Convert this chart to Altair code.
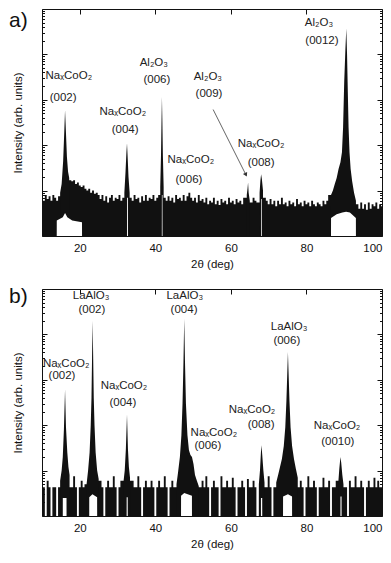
import altair as alt
import pandas as pd

W, H = 340, 227
FONT = "Liberation Sans"
INK = "#111"

# ---------------- panel a) data (Na_xCoO2 on Al2O3) ----------------
# background counts on a 0.5 deg grid from 10 to 100 deg
a_grid = [
    7, 6, 8, 6.5, 7.5, 6, 8, 7, 6, 7.5,
    12, 40, 590, 55, 19, 17, 16, 17, 14, 15,
    13, 12, 13, 11, 10, 11, 9, 10, 8.5, 9,
    8, 6.5, 8, 6, 7.5, 5.5, 7, 8, 6, 7,
    6.5, 8, 6, 7, 20, 110, 20, 7, 6, 8,
    6.5, 7, 5.5, 7.5, 6, 8, 6, 7, 6.5, 8,
    6, 7, 8, 60, 60, 7, 6, 7.5, 6, 7,
    5.5, 8, 6.5, 7, 6, 8, 6, 7.5, 9, 7,
    6, 7, 5.5, 8, 6, 6.5, 5.5, 7, 5, 6,
    5.5, 7, 5, 6, 4.8, 6.5, 5.5, 6, 5, 7,
    5.5, 6, 5, 6.5, 5.5, 6, 5, 7, 7, 14,
    6, 5.5, 7, 6, 5.5, 9, 23, 10, 7, 6,
    5, 6.5, 5, 6, 4.5, 6, 5, 7, 5, 5.5,
    4.5, 6, 5, 5.5, 4.5, 6.5, 5, 5.5, 4.5, 6,
    5, 5.5, 4.5, 6, 5, 4.5, 5.5, 5, 4.5, 6,
    5, 6, 8, 10, 19, 30, 42, 60, 42, 70,
    2500, 20000, 1500, 45, 16, 9, 6, 5, 4, 5.5,
    4, 5, 3.8, 5.5, 4, 5, 4.5, 5.5, 4, 5,
    4.5,
]
a_peak_angle = [
    14.8, 15.2, 15.6, 15.9, 16.1, 16.3, 16.6, 16.9, 17.2,
    31.8, 32.1, 32.35, 32.5, 32.65, 32.9, 33.2,
    41.3, 41.5, 41.65, 41.75, 41.85, 42.0, 42.2,
    64.2, 64.4, 64.55, 64.7, 65.0,
    67.6, 67.8, 68.0, 68.2, 68.5,
    86.5, 87.0, 87.5, 88.0, 88.5, 89.0, 89.4, 89.7, 90.0, 90.3,
    90.55, 90.75, 90.95, 91.15, 91.4, 91.7, 92.1, 92.6, 93.1,
]
a_peak_count = [
    9, 14, 45, 200, 590, 230, 55, 26, 19,
    9, 25, 70, 110, 60, 20, 9,
    12, 60, 400, 1150, 400, 60, 12,
    8, 11, 15, 9, 6,
    9, 16, 23, 18, 10,
    8, 10, 14, 19, 30, 42, 70, 250, 2500, 12000,
    37000, 10000, 1500, 250, 70, 30, 16, 9, 6,
]
# lower envelope (white gaps under the peaks)
a_gap_angle = [13.9, 13.91, 15.5, 16.1, 16.7, 18.0, 20.59, 20.6,
               32.5, 32.51, 32.74, 32.75,
               41.72, 41.73, 41.89, 41.9,
               68.0, 68.01, 68.19, 68.2,
               86.5, 86.51, 88.0, 89.5, 90.5, 91.5, 93.09, 93.1]
a_gap_count = [1, 2.2, 2.6, 3.2, 2.6, 2.2, 2.0, 1,
               1, 7, 7, 1,
               1, 8, 8, 1,
               1, 6.5, 6.5, 1,
               1, 2.5, 3.0, 3.3, 3.4, 3.3, 2.5, 1]
a_lab_text = ["NaₓCoO₂", "(002)", "NaₓCoO₂", "(004)", "Al₂O₃", "(006)",
              "NaₓCoO₂", "(006)", "Al₂O₃", "(009)", "NaₓCoO₂", "(008)",
              "Al₂O₃", "(0012)"]
a_lab_angle = [17.1, 15.6, 31.4, 32.0, 39.6, 40.4, 49.4, 48.9, 53.9, 54.2,
               68.0, 68.0, 83.3, 84.1]
a_lab_count = [3400, 1100, 530, 220, 6400, 2700, 48, 17, 3250, 1340,
               105, 41, 50000, 20000]
a_arrow_from = [55.3, 610]
a_arrow_to = [63.9, 23]

# ---------------- panel b) data (Na_xCoO2 on LaAlO3) ----------------
b_grid = [
    4.3, 4.3, 1, 6, 4.3, 1, 4.3, 4.3, 1, 4.3,
    6, 20, 610, 25, 7, 6, 4.3, 7.5, 4.3, 1,
    4.3, 6, 4.3, 5, 8, 25, 20000, 25, 10, 6.5,
    6.5, 6, 4.3, 1, 4.3, 6, 4.3, 4.3, 7.5, 4.3,
    1, 4.3, 6, 4.3, 30, 173, 12, 4.3, 6, 4.3,
    4.3, 7.5, 4.3, 1, 4.3, 6, 4.3, 4.3, 6, 4.3,
    1, 4.3, 6, 4.3, 4.3, 7.5, 4.3, 1, 4.3, 6,
    4.3, 6, 9, 20, 300, 300, 60, 28, 22, 20,
    14, 8, 6, 4.5, 4.3, 6, 4.3, 7.5, 4.3, 1,
    4.3, 6, 4.3, 4.3, 1, 7.5, 4.3, 4.3, 6, 4.3,
    4.3, 7, 4.3, 1, 4.3, 4.3, 6, 4.3, 1, 6.5,
    4.3, 4.3, 6, 4.3, 1, 7, 36, 10, 6, 4.3,
    7.5, 4.3, 1, 4.3, 5.5, 8, 12, 18, 35, 90,
    4100, 350, 35, 18, 11, 7, 4.3, 6, 4.3, 1,
    4.3, 7.5, 4.3, 4.3, 6, 4.3, 1, 4.3, 4.3, 7,
    4.3, 4.3, 6, 1, 4.3, 4.3, 6, 11, 20, 8,
    4.3, 4.3, 1, 6, 4.3, 4.3, 7.5, 4.3, 4.3, 6,
    4.3, 1, 4.3, 6, 4.3, 4.3, 7, 4.3, 6, 4.3,
    4.3,
]
b_peak_angle = [
    14.8, 15.2, 15.5, 15.8, 16.1, 16.35, 16.7, 17.0, 17.3,
    21.8, 22.2, 22.6, 22.9, 23.1, 23.25, 23.4, 23.55, 23.7, 23.9, 24.2, 24.6, 25.0,
    31.6, 31.9, 32.2, 32.5, 32.75, 33.0, 33.3,
    45.6, 46.0, 46.5, 46.9, 47.2, 47.45, 47.65, 47.85, 48.1, 48.5, 48.9,
    49.3, 49.7, 50.1, 50.5, 51.0, 51.5,
    67.4, 67.7, 67.95, 68.1, 68.3, 68.6, 68.9,
    72.0, 72.5, 73.0, 73.5, 74.0, 74.4, 74.7, 74.95, 75.1, 75.25, 75.5,
    75.8, 76.2, 76.7, 77.2, 77.7,
    88.4, 88.7, 89.0, 89.2, 89.5, 89.8,
]
b_peak_count = [
    6, 10, 20, 80, 610, 90, 25, 12, 8,
    5, 10, 25, 100, 400, 3000, 20000, 3000, 400, 100, 25, 10, 6.5,
    6, 10, 30, 173, 30, 12, 7,
    5, 9, 20, 60, 300, 2500, 22000, 2500, 300, 60, 28,
    22, 20, 14, 8, 6, 4.5,
    5, 10, 25, 36, 22, 10, 5.5,
    5.5, 8, 12, 18, 35, 90, 350, 1600, 4100, 1600, 350,
    90, 35, 18, 11, 7,
    5, 11, 20, 15, 8, 5,
]
b_gap_angle = [15.5, 15.51, 16.49, 16.5,
               22.5, 22.51, 23.35, 24.59, 24.6,
               32.4, 32.41, 32.69, 32.7,
               46.8, 46.81, 47.65, 49.69, 49.7,
               67.95, 67.96, 68.29, 68.3,
               73.8, 73.81, 75.1, 76.19, 76.2,
               89.0, 89.01, 89.29, 89.3]
b_gap_count = [1, 2.5, 2.5, 1,
               1, 2.6, 3.0, 2.6, 1,
               1, 2.6, 2.6, 1,
               1, 2.8, 3.2, 2.8, 1,
               1, 2.5, 2.5, 1,
               1, 2.7, 3.0, 2.7, 1,
               1, 2.7, 2.7, 1]
b_lab_text = ["LaAlO₃", "(002)", "NaₓCoO₂", "(002)", "NaₓCoO₂", "(004)",
              "LaAlO₃", "(004)", "NaₓCoO₂", "(006)", "NaₓCoO₂", "(008)",
              "LaAlO₃", "(006)", "NaₓCoO₂", "(0010)"]
b_lab_angle = [23.0, 23.2, 16.4, 15.3, 31.7, 31.4, 47.8, 47.6, 55.5, 53.9,
               65.6, 68.0, 75.4, 74.8, 88.1, 88.3]
b_lab_count = [70000, 34000, 2230, 1240, 720, 316, 70000, 34000, 66, 34,
               214, 103, 14800, 7200, 98, 43]

# ---------------- axes ----------------
x_tick_values = [20, 40, 60, 80]
x_label_values = [20, 40, 60, 80, 100]
y_tick_values = [m * 10 ** e for e in range(5) for m in range(1, 10)] + [100000]
major_test = "abs(log(datum.value)/LN10 - round(log(datum.value)/LN10)) < 0.001"

grid_angle = [10 + 0.5 * i for i in range(len(a_grid))]


def noise_frame(grid_count, pk_angle):
    rows = [(x, c) for x, c in zip(grid_angle, grid_count)
            if all(abs(x - p) >= 0.26 for p in pk_angle)]
    return pd.DataFrame(rows, columns=["angle", "counts"])


def peak_frame(pk_angle, pk_count):
    # close every peak at the bottom so separate peaks are not joined
    rows = []
    for i, (x, c) in enumerate(zip(pk_angle, pk_count)):
        first = i == 0 or x - pk_angle[i - 1] > 1.0
        last = i == len(pk_angle) - 1 or pk_angle[i + 1] - x > 1.0
        if first:
            rows.append((x - 0.001, 1))
        rows.append((x, c))
        if last:
            rows.append((x + 0.001, 1))
    return pd.DataFrame(rows, columns=["angle", "counts"])


def panel(grid_count, pk_angle, pk_count, gap_angle, gap_count,
          lab_text, lab_angle, lab_count, tag, tag_y, arrow=None):
    xs = alt.Scale(domain=[10, 100], nice=False, zero=False)
    ys = alt.Scale(type="log", domain=[1, 100000], nice=False)
    noise = noise_frame(grid_count, pk_angle)
    peaks = peak_frame(pk_angle, pk_count)
    gaps = pd.DataFrame({"angle": gap_angle, "counts": gap_count})
    labs = pd.DataFrame({"t": lab_text, "angle": lab_angle, "counts": lab_count})

    base = alt.Chart(noise).mark_area(color=INK, interpolate="step").encode(
        x=alt.X("angle:Q", scale=xs, axis=alt.Axis(
            title="2θ (deg)", values=x_label_values, ticks=False, tickSize=0,
            domain=False, grid=False, labelFlush=True, labelPadding=6,
            titlePadding=5, labelFontSize=11.5, titleFontSize=11.5,
            labelFont=FONT, titleFont=FONT, labelColor=INK, titleColor=INK,
            titleFontWeight="normal")),
        y=alt.Y("counts:Q", scale=ys, axis=alt.Axis(
            title="Intensity (arb. units)", labels=False, ticks=False,
            domain=False, grid=False, titlePadding=19, titleFontSize=11.5,
            titleFont=FONT, titleColor=INK, titleFontWeight="normal")),
        y2=alt.datum(1),
    )
    pk = alt.Chart(peaks).mark_area(color=INK, interpolate="linear").encode(
        x=alt.X("angle:Q", axis=None),
        y=alt.Y("counts:Q", axis=None),
        y2=alt.datum(1),
    )
    white = alt.Chart(gaps).mark_area(color="white", interpolate="linear").encode(
        x=alt.X("angle:Q", axis=None),
        y=alt.Y("counts:Q", axis=None),
        y2=alt.datum(1),
    )
    tick_size = {"condition": {"test": major_test, "value": 5}, "value": 2.5}
    ticks_a = alt.Chart(peaks).mark_point(opacity=0).encode(
        x=alt.X("angle:Q", axis=alt.Axis(
            orient="bottom", offset=-H, values=x_tick_values, tickSize=5,
            labels=False, domain=False, title=None, grid=False, tickColor=INK)),
        y=alt.Y("counts:Q", axis=alt.Axis(
            orient="right", offset=-W, values=y_tick_values, tickSize=tick_size,
            labels=False, domain=False, title=None, grid=False, tickColor=INK)),
    )
    ticks_b = alt.Chart(peaks).mark_point(opacity=0).encode(
        x=alt.X("angle:Q", axis=None),
        y=alt.Y("counts:Q", axis=alt.Axis(
            orient="left", offset=-W, values=y_tick_values, tickSize=tick_size,
            labels=False, domain=False, title=None, grid=False, tickColor=INK)),
    )
    text = alt.Chart(labs).mark_text(fontSize=11.5, font=FONT, color="#222",
                                     baseline="middle").encode(
        x=alt.X("angle:Q", axis=None),
        y=alt.Y("counts:Q", axis=None),
        text="t:N",
    )
    tag_t = alt.Chart(pd.DataFrame({"t": [tag]})).mark_text(
        fontSize=21, font=FONT, color=INK, align="left", baseline="middle"
    ).encode(x=alt.value(-33), y=alt.value(tag_y), text="t:N")

    layers = [base, pk, white, ticks_a, ticks_b, text, tag_t]
    if arrow is not None:
        (x1, y1), (x2, y2) = arrow
        arr = pd.DataFrame({"a1": [x1], "c1": [y1], "a2": [x2], "c2": [y2]})
        line = alt.Chart(arr).mark_rule(color="#555", strokeWidth=0.9).encode(
            x=alt.X("a1:Q", axis=None), y=alt.Y("c1:Q", axis=None),
            x2="a2:Q", y2="c2:Q")
        head = alt.Chart(arr).mark_point(shape="triangle", filled=True, size=22,
                                         angle=154, color="#333", opacity=1).encode(
            x=alt.X("a2:Q", axis=None), y=alt.Y("c2:Q", axis=None))
        layers += [line, head]
    return alt.layer(*layers).resolve_axis(
        x="independent", y="independent").properties(width=W, height=H)


pa = panel(a_grid, a_peak_angle, a_peak_count, a_gap_angle, a_gap_count,
           a_lab_text, a_lab_angle, a_lab_count, "a)", 12,
           arrow=(a_arrow_from, a_arrow_to))
pb = panel(b_grid, b_peak_angle, b_peak_count, b_gap_angle, b_gap_count,
           b_lab_text, b_lab_angle, b_lab_count, "b)", 8)

chart = alt.vconcat(pa, pb, spacing=14).properties(
    padding={"left": 0, "top": 0, "right": 0, "bottom": 0}
).configure_view(stroke=INK, strokeWidth=1)

chart.save("out.html", embed_options={"renderer": "svg", "actions": False})
